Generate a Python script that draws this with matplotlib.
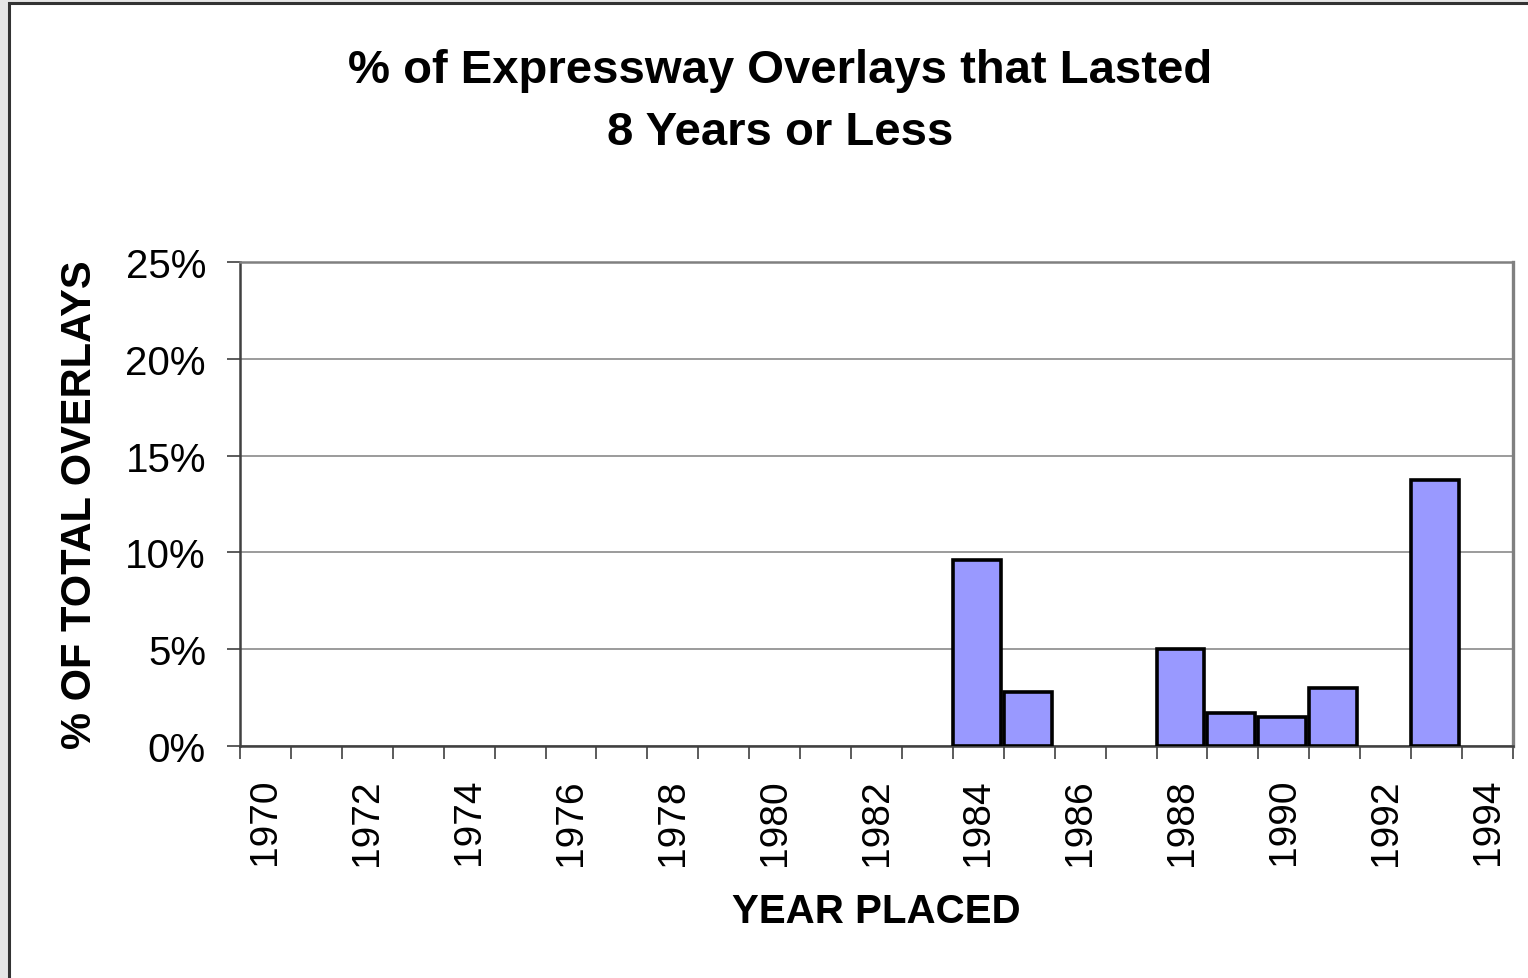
import matplotlib
matplotlib.use("Agg")
import matplotlib.pyplot as plt
from matplotlib.patches import Rectangle
from matplotlib.ticker import FixedLocator, PercentFormatter

plt.rcParams['font.family'] = ['Liberation Sans', 'DejaVu Sans']

years = list(range(1970, 1995))
pct = [0, 0, 0, 0, 0, 0, 0, 0, 0, 0, 0, 0, 0, 0,
       9.6, 2.8, 0, 0, 5.0, 1.7, 1.5, 3.0, 0, 13.75, 0]
ytick_vals = [0, 5, 10, 15, 20, 25]

W, H = 1528, 979
fig = plt.figure(figsize=(W / 100, H / 100), dpi=100)
fig.patch.set_facecolor('#e6e6e6')

# white chart page with dark frame
frame = Rectangle((9 / W, -0.05), 1.05, 1 - 4 / H + 0.05, transform=fig.transFigure,
                  facecolor='white', edgecolor='#333333', linewidth=2.2, zorder=0)
fig.patches.append(frame)

ax = fig.add_axes([240 / W, (H - 747) / H, (1513 - 240) / W, (747 - 263) / H])
ax.set_zorder(2)
ax.set_facecolor('white')

# bars sit at the left edge of each year slot
xs = [i for i, v in enumerate(pct) if v > 0]
hs = [v for v in pct if v > 0]
ax.bar(xs, hs, width=0.94, align='edge', color='#9999ff',
       edgecolor='black', linewidth=2.6, zorder=3)

ax.set_xlim(0, len(years))
ax.set_ylim(0, 25)

ax.yaxis.set_major_locator(FixedLocator(ytick_vals))
ax.yaxis.set_major_formatter(PercentFormatter(decimals=0))
ax.grid(axis='y', color='#808080', linewidth=1.1, zorder=1)

# ticks at slot boundaries, labels every other year at slot centres
ax.xaxis.set_major_locator(FixedLocator(range(len(years) + 1)))
ax.set_xticklabels([])
ax.xaxis.set_minor_locator(FixedLocator([i + 0.5 for i in range(0, len(years), 2)]))
ax.set_xticklabels([str(y) for y in years[::2]], minor=True, rotation=90)

ax.tick_params(axis='x', which='major', length=9.5, width=1.2, color='#404040', direction='out')
ax.tick_params(axis='x', which='minor', length=0, pad=23, labelsize=28)
ax.tick_params(axis='y', which='major', length=9.5, width=1.2, color='#404040',
               direction='out', pad=15, labelsize=29)

for s in ['left', 'bottom']:
    ax.spines[s].set_color('#404040')
    ax.spines[s].set_linewidth(1.8)
ax.spines['top'].set_color('#808080')
ax.spines['top'].set_linewidth(1.8)
ax.spines['right'].set_color('#808080')
ax.spines['right'].set_linewidth(2.4)

ax.set_xlabel('YEAR PLACED', fontsize=29, fontweight='bold', labelpad=20)
ax.set_ylabel('% OF TOTAL OVERLAYS', fontsize=30, fontweight='bold', labelpad=18)

fig.text(780 / W, 1 - 102 / H, '% of Expressway Overlays that Lasted\n8 Years or Less',
         ha='center', va='center', fontsize=34, fontweight='bold', linespacing=1.52,
         zorder=3)

fig.savefig('out.png', dpi=100, facecolor=fig.get_facecolor())
